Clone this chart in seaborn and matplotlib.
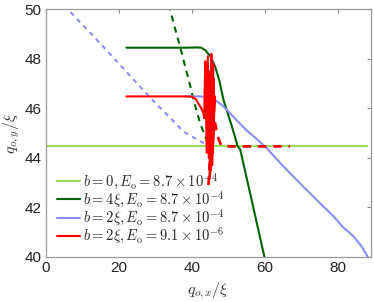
import matplotlib
matplotlib.use("Agg")
import matplotlib.pyplot as plt
import seaborn as sns
import numpy as np

sns.set_theme(style="white")
plt.rcParams['font.family'] = ['Liberation Sans', 'DejaVu Sans']
plt.rcParams['mathtext.fontset'] = 'cm'

# b = 0 (light green)
g0_x = [0, 88]
g0_y = [44.46, 44.46]

# b = 4xi (dark green) solid
g4_x = [22.0, 38.0, 41.3, 42.5, 43.6, 45.0, 46.3, 47.5, 48.6, 50.9, 52.5, 53.2, 59.8, 60.5]
g4_y = [48.45, 48.45, 48.46, 48.45, 48.35, 48.1, 47.69, 47.1, 46.34, 45.27, 44.46, 44.33, 40.0, 39.6]
# b = 4xi dashed
g4d_x = [33.6, 35.0, 36.7, 38.1, 39.5, 40.4, 42.2, 44.0, 45.0]
g4d_y = [50.2, 49.4, 48.5, 47.7, 46.9, 46.34, 45.4, 44.7, 44.45]

# b = 2xi, E=8.7e-4 (blue) solid
bl_x = [38.0, 39.9, 42.2, 44.0, 46.3, 48.0, 49.5, 52.0, 55.0, 58.0, 60.5, 64.1, 70.0, 75.0, 78.7, 81.5, 84.2, 86.5, 88.1]
bl_y = [46.48, 46.48, 46.48, 46.45, 46.34, 46.15, 45.94, 45.55, 45.1, 44.72, 44.38, 43.79, 42.9, 42.17, 41.64, 41.17, 40.83, 40.4, 40.0]
# blue dashed
bld_x = [5.0, 10.0, 15.0, 20.0, 25.0, 30.0, 34.0, 36.7, 38.5, 40.4, 43.1, 45.0, 46.8]
bld_y = [50.15, 49.38, 48.6, 47.8, 47.0, 46.2, 45.62, 45.2, 44.98, 44.82, 44.6, 44.5, 44.46]

# b = 2xi, E=9.1e-6 (red) solid
rd_x = [22.0, 38.0, 39.9, 41.0, 41.7, 42.6, 43.1, 43.3, 43.6, 44.0, 44.3, 44.6, 44.8, 45.0, 45.3,
        45.1, 44.7, 45.5, 45.8, 45.2, 44.9, 45.6, 46.0, 45.4, 45.0, 45.7, 46.2, 45.5, 45.3, 44.6,
        45.0, 44.4, 45.2, 44.8, 45.4, 44.7, 45.1]
rd_y = [46.48, 46.48, 46.47, 46.38, 46.2, 45.98, 45.8, 45.6, 47.9, 44.2, 48.1, 44.0, 47.5, 44.3, 48.2,
        43.9, 47.0, 44.1, 47.8, 43.8, 46.8, 44.5, 47.2, 43.9, 45.5, 44.2, 46.5, 43.7, 45.0, 44.6,
        43.6, 45.2, 43.9, 44.8, 43.7, 44.4, 43.8]
# red dashed
rdd_x = [44.5, 45.2, 44.8, 45.5, 45.0, 45.7, 45.3, 45.9, 46.3, 46.8, 47.4, 48.0, 50.0, 66.8]
rdd_y = [42.9, 44.6, 43.2, 44.9, 43.5, 45.2, 44.0, 45.35, 45.4, 45.0, 44.7, 44.5, 44.46, 44.46]

labels = [r'$b=0, E_\mathrm{o}=8.7\times10^{-4}$',
          r'$b=4\xi, E_\mathrm{o}=8.7\times10^{-4}$',
          r'$b=2\xi, E_\mathrm{o}=8.7\times10^{-4}$',
          r'$b=2\xi, E_\mathrm{o}=9.1\times10^{-6}$']

c_lg = '#99dd55'
c_dg = '#006400'
c_bl = '#8c8cff'
c_rd = '#ff0000'

fig = plt.figure(figsize=(3.74, 3.02), dpi=100)
ax = fig.add_axes([0.123, 0.150, 0.869, 0.819])

kw = dict(sort=False, estimator=None, ax=ax)
sns.lineplot(x=g0_x, y=g0_y, color=c_lg, lw=1.5, label=labels[0], **kw)
sns.lineplot(x=g4_x, y=g4_y, color=c_dg, lw=1.5, label=labels[1], **kw)
sns.lineplot(x=g4d_x, y=g4d_y, color=c_dg, lw=1.5, linestyle=(0, (3, 2.5)), **kw)
sns.lineplot(x=bl_x, y=bl_y, color=c_bl, lw=1.5, label=labels[2], **kw)
sns.lineplot(x=bld_x, y=bld_y, color=c_bl, lw=1.5, linestyle=(0, (2.2, 2.2)), **kw)
sns.lineplot(x=rd_x, y=rd_y, color=c_rd, lw=1.5, label=labels[3], **kw)
sns.lineplot(x=rdd_x, y=rdd_y, color=c_rd, lw=2, linestyle=(0, (3, 2.5)), **kw)

ax.set_xlim(0, 89)
ax.set_ylim(40, 50)
ax.set_xticks([0, 20, 40, 60, 80])
ax.set_yticks([40, 42, 44, 46, 48, 50])
ax.tick_params(direction='in', top=True, right=True, length=3, width=0.8,
               colors='#888888', labelcolor='#222222', labelsize=11, pad=3)
for s in ax.spines.values():
    s.set_color('#999999')
    s.set_linewidth(0.9)
ax.set_xlabel(r'$q_{o,x}/\xi$', fontsize=11.5, color='#333333', labelpad=4)
ax.set_ylabel(r'$q_{o,y}/\xi$', fontsize=11.5, color='#333333', labelpad=2)

leg = ax.legend(loc='lower left', bbox_to_anchor=(0.025, 0.03), frameon=False,
                fontsize=10.5, handlelength=1.55, handletextpad=0.2, labelspacing=-0.12,
                borderaxespad=0.0, borderpad=0.2)

fig.savefig('out.png', dpi=100)
